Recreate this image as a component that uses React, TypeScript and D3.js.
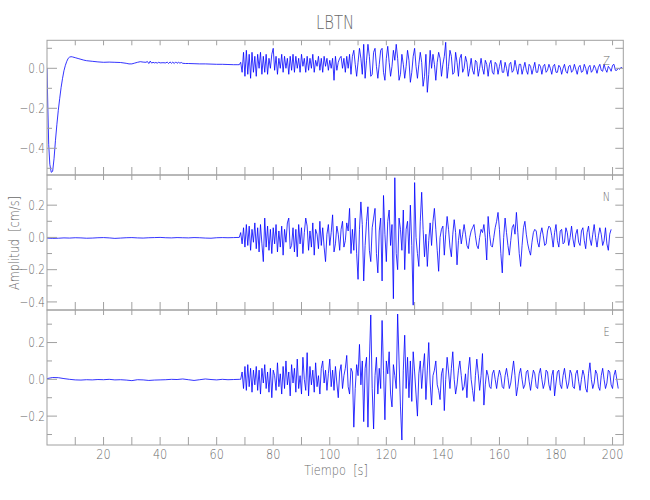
import React from "react";
import * as d3 from "d3";

// ---------- data ----------
const stationName = "LBTN";
const timeDomain = [0, 203.8];
const activeStart = 68;
const activeStep = 0.5;

const xTickValues = [10, 20, 30, 40, 50, 60, 70, 80, 90, 100, 110, 120, 130, 140, 150, 160, 170, 180, 190, 200];
const xTickLabels = [20, 40, 60, 80, 100, 120, 140, 160, 180, 200];

// Z component: pre-event samples (irregular time stamps)
const zPreTimes = [0, 0.3, 0.6, 1.0, 1.5, 2.0, 2.5, 3.0, 3.5, 4.0, 4.5, 5.0, 5.5, 6.0, 6.5, 7.0, 7.5, 8.0, 8.5, 9.0,
  10, 11, 12, 13, 14, 16, 18, 20, 22, 24, 26, 28, 29, 30, 31, 32, 33, 34, 35, 35.5,
  36, 36.5, 37, 37.5, 38, 38.5, 39, 39.5, 40, 41, 42, 42.5, 43, 43.5, 44, 44.5, 45, 45.5, 46, 46.5,
  47, 47.5, 48, 49, 50, 52, 54, 56, 58, 60, 62, 64, 66, 67.5];
const zPre = [0.0, -0.2, -0.38, -0.48, -0.52, -0.515, -0.45, -0.36, -0.28, -0.21, -0.15, -0.095, -0.05, -0.012, 0.015, 0.035, 0.05, 0.056, 0.058, 0.057,
  0.053, 0.049, 0.045, 0.041, 0.038, 0.035, 0.032, 0.03, 0.031, 0.03, 0.029, 0.025, 0.022, 0.022, 0.026, 0.03, 0.033, 0.031, 0.03, 0.034,
  0.024, 0.036, 0.026, 0.03, 0.027, 0.029, 0.026, 0.03, 0.027, 0.028, 0.027, 0.031, 0.024, 0.032, 0.025, 0.031, 0.024, 0.032, 0.025, 0.03,
  0.026, 0.029, 0.025, 0.024, 0.024, 0.023, 0.022, 0.022, 0.021, 0.02, 0.02, 0.019, 0.018, 0.018];

// N and E components: pre-event samples every 2 s
const preTimes = [0, 2, 4, 6, 8, 10, 12, 14, 16, 18, 20, 22, 24, 26, 28, 30, 32, 34, 36, 38, 40, 42, 44, 46, 48, 50, 52, 54, 56, 58, 60, 62, 64, 66];
const nPre = [-0.004, -0.006, -0.005, -0.003, -0.004, -0.002, -0.003, -0.005, -0.004, -0.002, -0.001, -0.003, -0.006, -0.004, -0.002, -0.001, -0.003,
  -0.004, -0.002, -0.001, 0.0, -0.002, -0.003, -0.001, -0.002, -0.003, -0.001, -0.002, -0.004, -0.005, -0.002, -0.001, -0.002, -0.001];
const ePre = [0.004, 0.01, 0.009, 0.004, 0.0, -0.003, -0.004, -0.002, -0.003, -0.001, -0.002, 0.0, -0.003, -0.002, -0.004, -0.007, -0.002,
  -0.003, -0.006, -0.004, -0.003, -0.002, 0.0, -0.001, 0.002, -0.002, -0.006, -0.002, 0.002, -0.001, -0.003, 0.0, -0.002, -0.001];

// Active part, one sample every 0.5 s starting at 68 s
const zActive = [
  0.018, 0.03, -0.02, 0.08, -0.04, 0.09, -0.03, 0.07, -0.05, 0.08, -0.02, 0.06, -0.04, 0.07, 0.0, 0.08, -0.03, 0.06, -0.02, 0.07,
  -0.03, 0.05, 0.0, 0.07, 0.10, -0.01, 0.06, -0.03, 0.05, 0.0, 0.07, -0.02, 0.06, 0.0, 0.05, -0.03, 0.06, -0.01, 0.07, -0.02,
  0.06, 0.0, 0.05, -0.02, 0.07, 0.01, 0.05, -0.02, 0.06, -0.01, 0.05, 0.0, 0.07, -0.02, 0.04, 0.01, 0.06, -0.01, 0.05, -0.02,
  0.06, 0.01, 0.05, -0.01, 0.04, 0.0, 0.05, -0.06, 0.06, -0.01, 0.03, 0.05, 0.06, 0.0, 0.05, -0.02, 0.06, 0.0, 0.07, -0.03,
  0.06, 0.09, 0.02, -0.04, 0.03, 0.10, 0.05, -0.03, 0.12, -0.05, 0.04, 0.12, 0.06, -0.04, -0.03, 0.08, 0.1, 0.01, -0.05, 0.02,
  0.09, 0.10, -0.02, -0.06, 0.05, 0.11, 0.03, -0.04, 0.01, 0.09, 0.04, 0.12, 0.05, -0.06, -0.03, 0.07, 0.02, -0.05, 0.01, 0.09,
  0.04, -0.07, -0.02, 0.06, 0.10, 0.01, -0.05, 0.02, 0.08, 0.03, -0.09, -0.04, 0.07, -0.12, -0.03, 0.09, 0.0, 0.07, 0.02, -0.06,
  0.03, 0.08, 0.05, -0.04, 0.02, 0.06, 0.13, -0.05, 0.01, 0.09, 0.06, -0.03, -0.02, 0.08, 0.03, -0.04, 0.05, 0.07, -0.02, 0.0,
  0.06, 0.03, -0.04, 0.0, 0.05, -0.01, -0.03, 0.04, 0.03, -0.04, 0.0, 0.05, 0.0, -0.03, 0.04, 0.02, -0.04, 0.02, 0.04, -0.02,
  -0.03, 0.03, 0.02, -0.03, 0.01, 0.04, -0.02, -0.02, 0.03, 0.0, -0.04, 0.02, 0.03, -0.02, -0.01, 0.04, 0.0, -0.03, 0.02, 0.02,
  -0.03, 0.0, 0.03, -0.01, -0.03, 0.02, 0.01, -0.03, 0.0, 0.03, -0.02, -0.02, 0.02, 0.01, -0.03, 0.01, 0.02, -0.02, -0.01, 0.02,
  0.0, -0.03, 0.01, 0.02, -0.02, -0.02, 0.015, 0.005, -0.03, 0.0, 0.02, -0.015, -0.025, 0.01, 0.015, -0.02, -0.01, 0.02, -0.005, -0.03,
  0.005, 0.015, -0.02, -0.015, 0.02, 0.0, -0.03, 0.005, 0.015, -0.02, -0.01, 0.015, 0.0, -0.025, 0.005, 0.02, -0.01, -0.015, 0.02, -0.005,
  -0.02, 0.01, 0.0, -0.015, 0.015, 0.02, -0.01, -0.01, 0.0, -0.005, 0.005, 0.0,
];

const nActive = [
  0.0, 0.03, -0.04, 0.06, -0.06, 0.08, -0.05, 0.07, -0.08, 0.05, -0.03, 0.09, -0.07, 0.06, -0.09, 0.08, -0.04, -0.15, 0.12, -0.06,
  0.07, -0.08, 0.05, -0.10, 0.06, -0.04, 0.08, -0.09, 0.04, -0.06, 0.07, -0.11, 0.05, -0.03, 0.09, 0.12, -0.07, -0.05, 0.06, -0.09,
  0.05, -0.12, 0.08, -0.04, 0.06, -0.10, 0.03, 0.12, 0.07, -0.08, 0.04, -0.06, 0.09, -0.11, 0.05, 0.02, -0.07, 0.10, -0.05, 0.06,
  -0.06, -0.15, 0.02, 0.08, -0.05, 0.03, 0.14, -0.09, -0.04, 0.07, 0.02, -0.08, 0.05, 0.10, -0.06, -0.02, 0.09, 0.04, 0.18, -0.10,
  0.05, -0.08, 0.12, -0.1, -0.26, 0.05, 0.22, 0.08, -0.27, -0.05, 0.1, 0.19, -0.08, -0.15, 0.06, 0.12, 0.18, -0.1, -0.22, 0.04,
  0.12, -0.27, 0.26, 0.02, -0.15, 0.1, 0.17, -0.05, 0.08, -0.38, 0.37, -0.1, -0.2, 0.12, 0.05, -0.08, 0.17, -0.2, 0.05, 0.1,
  -0.1, 0.2, -0.05, -0.42, 0.34, 0.0, -0.1, -0.18, 0.1, 0.28, 0.05, -0.12, 0.02, -0.18, -0.02, 0.09, -0.05, 0.1, 0.18, 0.05,
  -0.08, -0.21, 0.0, 0.05, 0.07, -0.11, 0.02, 0.13, 0.05, -0.06, -0.12, 0.02, 0.11, 0.03, -0.17, -0.02, 0.05, -0.04, 0.02, 0.08,
  0.02, -0.05, -0.07, 0.0, 0.04, 0.06, 0.08, 0.01, -0.05, -0.07, 0.0, 0.05, 0.03, 0.08, 0.0, -0.14, 0.13, 0.02, -0.05, -0.06,
  0.0, 0.06, 0.1, 0.155, 0.05, -0.1, -0.22, 0.0, 0.12, 0.03, -0.05, -0.11, -0.02, 0.06, 0.08, 0.02, 0.155, 0.03, -0.1, -0.18,
  -0.05, 0.06, 0.1, 0.02, -0.04, -0.08, -0.11, -0.03, 0.03, 0.05, 0.04, -0.03, -0.06, 0.02, 0.06, 0.01, -0.05, -0.04, 0.04, 0.07,
  0.06, 0.01, -0.06, 0.03, 0.08, -0.02, -0.06, 0.04, 0.05, -0.04, -0.03, 0.06, 0.03, -0.05, 0.0, 0.07, -0.01, -0.06, 0.02, 0.05,
  -0.03, -0.05, 0.04, 0.06, -0.02, -0.07, 0.03, 0.07, -0.01, -0.05, 0.02, 0.08, 0.0, -0.06, 0.01, 0.06, 0.02, -0.05, -0.02, 0.06,
  -0.04, -0.08, 0.02, 0.05,
];

const eActive = [
  0.0, 0.0, 0.04, -0.05, 0.07, -0.06, 0.08, -0.04, 0.06, -0.07, 0.05, -0.03, 0.07, -0.06, 0.05, -0.08, 0.06, -0.02, 0.08, -0.05,
  0.04, -0.07, 0.06, -0.1, 0.05, 0.02, -0.06, 0.09, -0.04, 0.03, -0.08, 0.07, -0.05, 0.1, -0.03, 0.04, -0.09, 0.08, -0.02, 0.06,
  -0.07, 0.11, -0.05, 0.02, -0.08, 0.12, 0.0, -0.06, 0.145, -0.09, 0.07, -0.03, 0.05, -0.07, 0.09, -0.04, 0.02, -0.08, 0.06, 0.1,
  -0.02, 0.05, -0.06, 0.03, 0.11, -0.04, 0.05, -0.06, 0.07, -0.02, -0.1, 0.04, 0.08, -0.05, 0.02, 0.06, 0.13, -0.04, -0.08, 0.06,
  0.04, -0.26, -0.05, 0.08, 0.02, 0.19, -0.03, 0.1, -0.23, 0.06, 0.12, -0.26, 0.1, 0.35, -0.05, -0.27, 0.02, 0.12, -0.08, 0.06,
  -0.05, 0.32, 0.05, -0.22, 0.1, 0.03, 0.15, -0.08, -0.15, 0.08, 0.02, -0.05, 0.355, 0.1, -0.15, -0.33, 0.05, 0.24, -0.05, 0.12,
  -0.1, 0.1, -0.12, 0.15, 0.04, -0.08, -0.2, 0.03, 0.1, -0.05, 0.06, 0.14, -0.11, 0.05, 0.2, -0.02, -0.14, 0.02, 0.05, 0.1,
  -0.03, -0.06, -0.11, 0.03, 0.06, -0.17, 0.0, 0.12, 0.04, -0.05, 0.06, 0.15, 0.0, -0.08, -0.03, 0.05, 0.1, 0.02, -0.06, -0.04,
  0.03, -0.1, 0.05, 0.12, 0.0, -0.06, -0.12, 0.02, 0.11, 0.03, -0.06, 0.02, 0.14, -0.14, -0.03, 0.05, 0.02, -0.04, -0.05, 0.03,
  0.05, 0.0, -0.05, 0.01, 0.05, 0.02, -0.04, -0.05, 0.02, 0.06, 0.01, -0.05, -0.02, 0.04, 0.1, 0.02, -0.09, -0.04, 0.03, 0.06,
  0.0, -0.05, -0.03, 0.04, 0.05, -0.01, -0.06, 0.0, 0.05, 0.03, -0.04, -0.05, 0.03, 0.06, 0.0, -0.05, -0.02, 0.05, 0.04, -0.03,
  -0.06, 0.02, 0.05, -0.09, -0.02, 0.04, 0.05, -0.03, -0.05, 0.02, 0.06, 0.0, -0.05, -0.02, 0.05, 0.03, -0.04, -0.05, 0.03, 0.05,
  -0.01, -0.06, 0.0, 0.05, 0.02, -0.05, -0.07, 0.03, 0.09, 0.0, -0.05, -0.02, 0.05, 0.03, -0.04, -0.06, 0.02, 0.06, 0.0, -0.05,
  -0.02, 0.05, 0.04, -0.03, -0.05, 0.02, 0.05, 0.0, -0.05,
];

const zRange = [-0.5335, 0.14];
const nRange = [-0.45, 0.387];
const eRange = [-0.357, 0.377];
const zMajor = [-0.4, -0.2, 0.0];
const zMinor = [-0.5, -0.3, -0.1, 0.1];
const nMajor = [-0.4, -0.2, 0.0, 0.2];
const nMinor = [-0.3, -0.1, 0.1, 0.3];
const eMajor = [-0.2, 0.0, 0.2];
const eMinor = [-0.3, -0.1, 0.1, 0.3];

// ---------- layout ----------
const W = 650;
const H = 500;
const LEFT = 47;
const RIGHT = 623.3;
const GRAY = "#a0a0a0";
const TEXT = "#6a6a6a";
const FONT = "'DejaVu Sans', sans-serif";

const panels = [
  { label: "Z", top: 40.3, bottom: 175, range: zRange, major: zMajor, minor: zMinor, preT: zPreTimes, pre: zPre, active: zActive, labelY: 65 },
  { label: "N", top: 175, bottom: 310, range: nRange, major: nMajor, minor: nMinor, preT: preTimes, pre: nPre, active: nActive, labelY: 200.5 },
  { label: "E", top: 310, bottom: 445, range: eRange, major: eMajor, minor: eMinor, preT: preTimes, pre: ePre, active: eActive, labelY: 336 },
];

const fmt = (v: number) => (Math.abs(v) < 1e-9 ? "0.0" : d3.format(".1f")(v));

// narrow, thin text (stroke-font look)
function T({ x, y, size, anchor = "middle", sx = 0.78, rotate = 0, children }: any) {
  return (
    <g transform={`translate(${x},${y}) rotate(${rotate}) scale(${sx},1)`}>
      <text x={0} y={0} textAnchor={anchor} fontSize={size} fill={TEXT} fontWeight={200}
        style={{ whiteSpace: "pre" }}>{children}</text>
    </g>
  );
}

export default function App() {
  const x = d3.scaleLinear().domain(timeDomain).range([LEFT, RIGHT]);

  return (
    <svg width={W} height={H} style={{ position: "absolute", left: 0, top: 0, background: "#fff" }}
      fontFamily={FONT}>
      <defs>
        {panels.map((p, i) => (
          <clipPath id={`clip${i}`} key={i}>
            <rect x={LEFT} y={p.top} width={RIGHT - LEFT} height={p.bottom - p.top} />
          </clipPath>
        ))}
      </defs>
      <T x={335} y={29} size={19}>{stationName}</T>
      {panels.map((p, i) => {
        const y = d3.scaleLinear().domain(p.range).range([p.bottom, p.top]);
        const pts: [number, number][] = [
          ...p.preT.map((t, k) => [t, p.pre[k]] as [number, number]),
          ...p.active.map((v, k) => [activeStart + k * activeStep, v] as [number, number]),
        ];
        const line = d3.line<[number, number]>().x((d) => x(d[0])).y((d) => y(d[1]));
        return (
          <g key={p.label}>
            <path d={line(pts) || ""} fill="none" stroke="#0000ff" strokeWidth={0.8}
              strokeLinejoin="round" clipPath={`url(#clip${i})`} />
            <rect x={LEFT} y={p.top} width={RIGHT - LEFT} height={p.bottom - p.top}
              fill="none" stroke={GRAY} strokeWidth={1} />
            {xTickValues.map((t) => (
              <g key={t}>
                <line x1={x(t)} x2={x(t)} y1={p.bottom} y2={p.bottom - 8} stroke={GRAY} />
                <line x1={x(t)} x2={x(t)} y1={p.top} y2={p.top + 5} stroke={GRAY} />
              </g>
            ))}
            {p.major.map((v) => (
              <g key={"M" + v}>
                <line x1={LEFT} x2={LEFT + 10} y1={y(v)} y2={y(v)} stroke={GRAY} />
                <line x1={RIGHT} x2={RIGHT - 8} y1={y(v)} y2={y(v)} stroke={GRAY} />
                <T x={45} y={y(v) + 4.8} size={13.5} anchor="end">{fmt(v)}</T>
              </g>
            ))}
            {p.minor.map((v) => (
              <g key={"m" + v}>
                <line x1={LEFT} x2={LEFT + 5} y1={y(v)} y2={y(v)} stroke={GRAY} />
                <line x1={RIGHT} x2={RIGHT - 8} y1={y(v)} y2={y(v)} stroke={GRAY} />
              </g>
            ))}
            <T x={606.5} y={p.labelY} size={12.5}>{p.label}</T>
          </g>
        );
      })}
      {xTickLabels.map((t) => (
        <T key={t} x={x(t)} y={458.5} size={14.5}>{String(t)}</T>
      ))}
      <T x={336} y={475} size={14.5}>{"Tiempo  [s]"}</T>
      <T x={19} y={243} size={14.5} rotate={-90}>{"Amplitud  [cm/s]"}</T>
    </svg>
  );
}
